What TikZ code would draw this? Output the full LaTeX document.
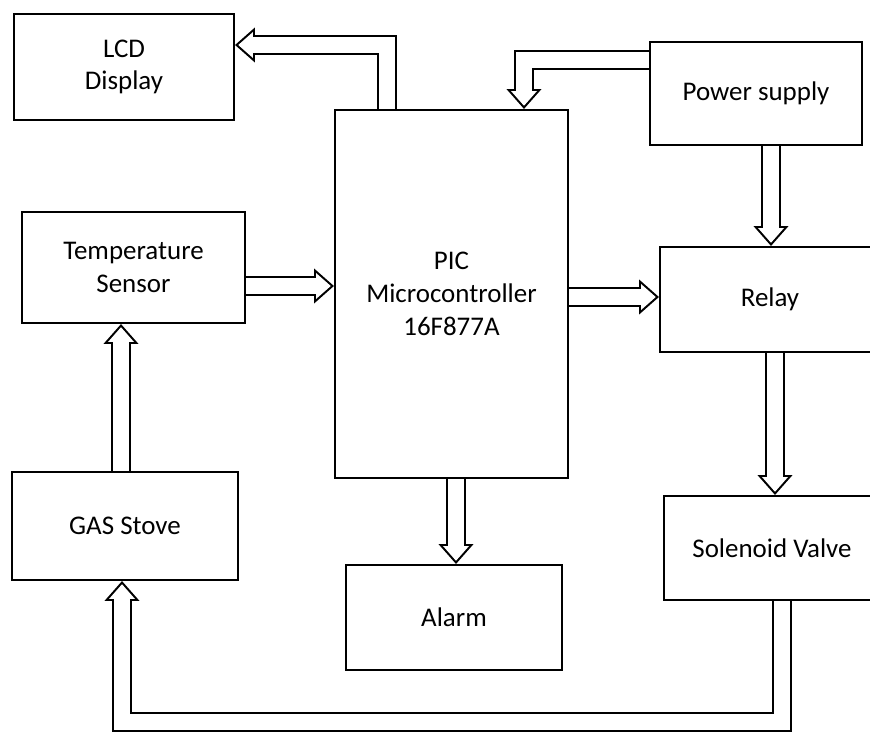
\documentclass[tikz,border=0pt]{standalone}
\usepackage{fontspec}
\setmainfont{Carlito}
\usetikzlibrary{arrows.meta}

\pgfdeclarelayer{pipes}
\pgfsetlayers{pipes,main}

\begin{document}
\begin{tikzpicture}[
    x=0.03cm,y=-0.03cm,
    font=\fontsize{23}{28}\selectfont,
    line join=miter,
    block/.style={draw,line width=1.8pt,align=center,inner sep=0pt},
    pipe/.style={
        preaction={draw=black,line width=16.6pt,shorten >=0pt,
            -{Triangle[length=17pt,width=30pt,line width=0pt]}},
        draw=white,
        line width=13pt,
        shorten >=2.72pt,
        -{Triangle[length=12.48pt,width=22pt,line width=0pt]}
    }
]

\useasboundingbox (0,0) rectangle (870,736);

\node[block,minimum width=6.6cm,minimum height=3.18cm] (lcd) at (124,67) {LCD\\Display};
\node[block,minimum width=6.99cm,minimum height=11.04cm] (mcu) at (451.5,294) {PIC\\Microcontroller\\16F877A};
\node[block,minimum width=6.36cm,minimum height=3.09cm] (ps) at (756,93.5) {Power supply};
\node[block,minimum width=6.69cm,minimum height=3.33cm] (temp) at (133.5,267.5) {Temperature\\Sensor};
\node[block,minimum width=6.6cm,minimum height=3.15cm] (relay) at (770,299.5) {Relay};
\node[block,minimum width=6.78cm,minimum height=3.24cm] (gas) at (125,526) {GAS Stove};
\node[block,minimum width=6.48cm,minimum height=3.15cm] (alarm) at (454,617.5) {Alarm};
\node[block,minimum width=6.48cm,minimum height=3.12cm] (sv) at (772,548) {Solenoid Valve};

\coordinate (lcdtap) at (387,45);
\coordinate (pstap) at (524,60);
\coordinate (loopR) at (782,722);
\coordinate (loopL) at (122,722);

\begin{pgfonlayer}{pipes}
\draw[pipe] (mcu.north -| lcdtap) -- (lcdtap) -- (lcd.east |- lcdtap);
\draw[pipe] (ps.west |- pstap) -- (pstap) -- (mcu.north -| pstap);
\draw[pipe] (ps.south -| 771,0) -- (relay.north -| 771,0);
\draw[pipe] (temp.east |- 0,286) -- (mcu.west |- 0,286);
\draw[pipe] (mcu.east |- 0,297) -- (relay.west |- 0,297);
\draw[pipe] (gas.north -| 121,0) -- (temp.south -| 121,0);
\draw[pipe] (mcu.south -| 456,0) -- (alarm.north -| 456,0);
\draw[pipe] (relay.south -| 775,0) -- (sv.north -| 775,0);
\draw[pipe] (sv.south -| loopR) -- (loopR) -- (loopL) -- (gas.south -| loopL);
\end{pgfonlayer}

\end{tikzpicture}
\end{document}
